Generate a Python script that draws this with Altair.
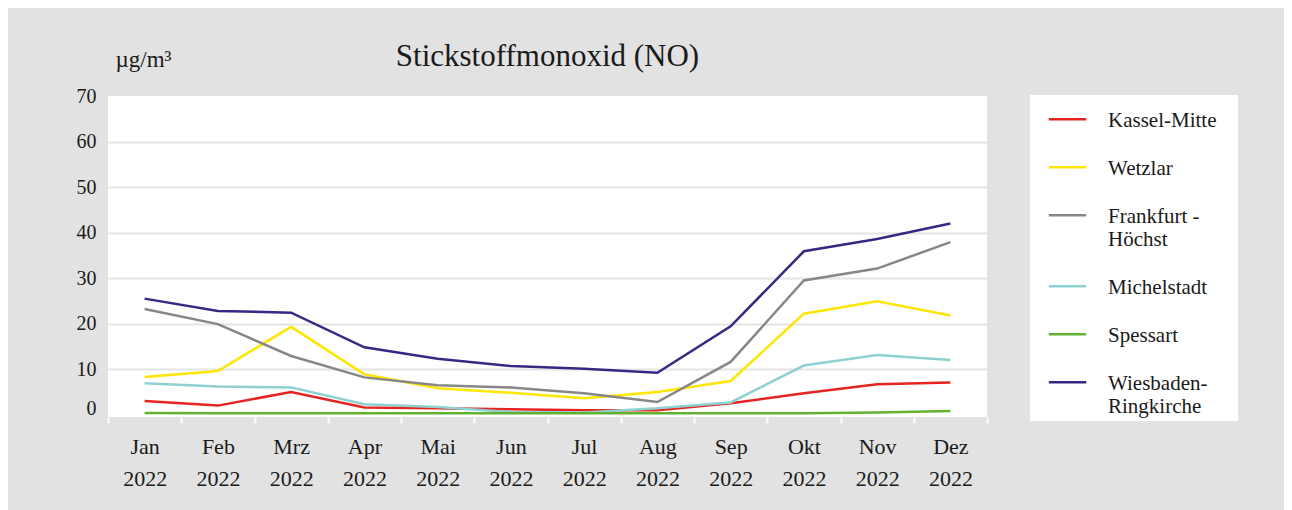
import altair as alt
import pandas as pd

# ---- data ----
months = ["Jan 2022", "Feb 2022", "Mrz 2022", "Apr 2022", "Mai 2022", "Jun 2022",
          "Jul 2022", "Aug 2022", "Sep 2022", "Okt 2022", "Nov 2022", "Dez 2022"]
stations = ["Kassel-Mitte", "Wetzlar", "Frankfurt -\nHöchst", "Michelstadt",
            "Spessart", "Wiesbaden-\nRingkirche"]
colors = ["#e52421", "#ffe600", "#878787", "#8fd0d1", "#63b22f", "#3b2783"]

kassel = [3.0, 2.0, 5.0, 1.6, 1.4, 1.2, 1.0, 1.0, 2.5, 4.7, 6.7, 7.1]
wetzlar = [8.3, 9.6, 19.3, 8.9, 5.8, 4.8, 3.6, 5.0, 7.4, 22.2, 24.9, 21.8]
frankfurt = [23.2, 19.9, 12.9, 8.2, 6.5, 6.0, 4.7, 2.8, 11.6, 29.5, 32.1, 37.9]
michelstadt = [6.9, 6.2, 6.0, 2.3, 1.7, 0.6, 0.5, 1.4, 2.7, 10.8, 13.1, 12.0]
spessart = [0.4, 0.3, 0.3, 0.3, 0.3, 0.3, 0.3, 0.3, 0.3, 0.3, 0.5, 0.8]
wiesbaden = [25.5, 22.8, 22.4, 14.8, 12.3, 10.7, 10.1, 9.2, 19.4, 35.9, 38.6, 42.0]
series = [kassel, wetzlar, frankfurt, michelstadt, spessart, wiesbaden]

y_ticks = [0, 10, 20, 30, 40, 50, 60, 70]
title_text = "Stickstoffmonoxid (NO)"
unit_text = "µg/m³"

rows = []
for name, vals in zip(stations, series):
    for m, v in zip(months, vals):
        rows.append({"month": m, "station": name, "value": v})
df = pd.DataFrame(rows)

SERIF = "Liberation Serif"
TXT = "#1a1a1a"

chart = alt.Chart(df).mark_line(strokeWidth=2.5).encode(
    x=alt.X(
        "month:N",
        sort=months,
        bandPosition=0.5,
        scale=alt.Scale(type="band", paddingInner=0, paddingOuter=0),
        axis=alt.Axis(
            title=None,
            labelExpr="split(datum.label, ' ')",
            labelAngle=0,
            labelFont=SERIF,
            labelFontSize=22,
            labelLineHeight=32,
            labelColor=TXT,
            labelPadding=13,
            labelBaseline="top",
            tickBand="extent",
            tickColor="white",
            tickSize=6,
            tickWidth=2,
            domain=False,
            grid=False,
        ),
    ),
    y=alt.Y(
        "value:Q",
        scale=alt.Scale(domain=[-0.5, 70], nice=False, zero=False),
        axis=alt.Axis(
            values=y_ticks,
            title=unit_text,
            titleAngle=0,
            titleAlign="left",
            titleBaseline="alphabetic",
            titleX=7,
            titleY=-30,
            titleFont=SERIF,
            titleFontSize=23,
            titleFontWeight="normal",
            titleColor=TXT,
            labelFont=SERIF,
            labelFontSize=20,
            labelColor=TXT,
            labelPadding=12,
            labelBaseline={"condition": {"test": "datum.value == 0", "value": "alphabetic"},
                           "value": "middle"},
            ticks=False,
            tickSize=0,
            domain=False,
            grid=True,
            gridColor={"condition": {"test": "datum.value <= 0 || datum.value >= 70",
                                     "value": "transparent"},
                       "value": "#e4e4e4"},
            gridWidth=2,
        ),
    ),
    color=alt.Color(
        "station:N",
        sort=stations,
        scale=alt.Scale(domain=stations, range=colors),
        legend=alt.Legend(
            title="M",
            titleOrient="right",
            titleColor="transparent",
            titleFontSize=16,
            titlePadding=4,
            orient="none",
            legendX=922,
            legendY=-1,
            direction="vertical",
            fillColor="white",
            padding=4,
            symbolType="M-2.34,1.21L2.34,1.21",
            symbolSize=256,
            symbolStrokeWidth=2.5,
            symbolOffset=23,
            labelExpr="split(datum.label, '\\n')",
            labelFont=SERIF,
            labelFontSize=21,
            labelBaseline="top",
            labelColor=TXT,
            labelOffset=30,
            labelLimit=300,
            rowPadding=16,
        ),
    ),
).properties(
    width=879,
    height=321,
    autosize=alt.AutoSizeParams(type="none"),
    padding={"left": 100, "top": 88, "right": 297, "bottom": 93},
    title=alt.TitleParams(
        title_text,
        font=SERIF,
        fontSize=31,
        fontWeight="normal",
        color=TXT,
        anchor="middle",
        frame="group",
        baseline="alphabetic",
        offset=-49,
    ),
).configure(
    background="#e2e2e2",
).configure_view(
    fill="white",
    strokeWidth=0,
)

chart.save("out.html", embed_options={"renderer": "svg", "actions": False})
